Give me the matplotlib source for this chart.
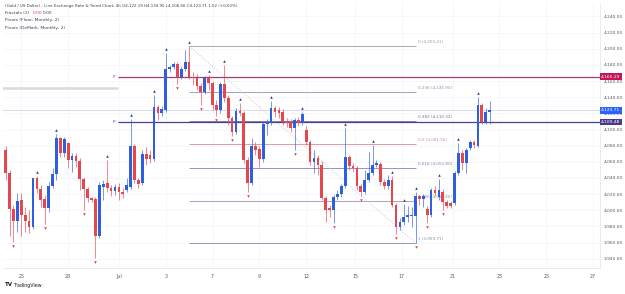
import matplotlib
matplotlib.use("Agg")
import matplotlib.pyplot as plt
import matplotlib.transforms as mtransforms
import numpy as np

# ---------------- data ----------------
opens = [4074.7, 4046.2, 4001.6, 3986.8, 4012.8, 3994.2, 3986.8, 3979.4, 4040.0, 4026.4,
         4014.0, 4002.9, 4030.1, 4045.0, 4089.5, 4071.0, 4083.3, 4062.3, 4067.2, 4061.1,
         4038.8, 4026.4, 4015.3, 4014.0, 3968.2, 4028.9, 4033.8, 4027.6, 4023.9, 4028.9,
         4022.7, 4025.2, 4028.9, 4079.6, 4037.5, 4033.8, 4069.7, 4068.5, 4063.5, 4127.9,
         4120.5, 4124.2, 4174.9, 4177.4, 4181.1, 4165.0, 4174.9, 4183.6, 4165.0, 4163.8,
         4153.9, 4146.4, 4163.8, 4157.6, 4130.4, 4124.2, 4156.3, 4139.0, 4114.3, 4096.9,
         4122.9, 4120.5, 4062.3, 4033.8, 4079.6, 4075.9, 4063.5, 4106.8, 4108.1, 4126.6,
         4124.2, 4121.7, 4109.3, 4109.3, 4101.9, 4111.8, 4108.1, 4099.4, 4084.6, 4059.8,
         4064.8, 4056.1, 4015.3, 4002.9, 4000.4, 4016.5, 4020.2, 4030.1, 4066.0, 4054.9,
         4052.4, 4030.1, 4022.7, 4037.5, 4046.2, 4056.1, 4057.3, 4035.1, 4030.1, 4037.5,
         4006.6, 3979.4, 3985.6, 3991.7, 3993.0, 3993.0, 4017.7, 4014.0, 4001.6, 3994.2,
         4025.2, 4016.5, 4022.7, 4010.3, 4009.1, 4009.1, 4046.2, 4071.0, 4058.6, 4077.1,
         4084.6, 4079.6, 4130.4, 4109.3, 4122.19]
highs = [4079.6, 4049.9, 4006.6, 4021.4, 4021.4, 4004.1, 4000.4, 4040.0, 4042.5, 4031.3,
         4019.0, 4035.1, 4052.4, 4094.5, 4090.8, 4090.8, 4084.6, 4071.0, 4071.0, 4064.8,
         4041.2, 4028.9, 4016.5, 4016.5, 4035.1, 4037.5, 4062.3, 4031.3, 4032.6, 4033.8,
         4027.6, 4040.0, 4113.0, 4082.1, 4040.0, 4074.7, 4078.4, 4074.7, 4142.7, 4130.4,
         4129.1, 4194.7, 4179.9, 4183.6, 4183.6, 4178.6, 4198.4, 4203.41, 4171.2, 4168.7,
         4157.6, 4166.2, 4167.5, 4160.1, 4136.5, 4158.8, 4179.9, 4142.7, 4116.7, 4126.6,
         4132.8, 4122.9, 4066.0, 4089.5, 4084.6, 4079.6, 4109.3, 4113.0, 4135.3, 4129.1,
         4127.9, 4125.4, 4114.3, 4113.0, 4114.3, 4115.5, 4121.7, 4104.4, 4087.0, 4074.7,
         4068.5, 4061.1, 4017.7, 4006.6, 4019.0, 4025.2, 4032.6, 4101.9, 4068.5, 4058.6,
         4054.9, 4032.6, 4049.9, 4072.2, 4080.9, 4062.3, 4059.8, 4038.8, 4043.7, 4042.5,
         4009.1, 3990.5, 4007.8, 4005.4, 4004.1, 4022.7, 4019.0, 4020.2, 4005.4, 4027.6,
         4030.1, 4038.8, 4026.4, 4012.8, 4011.5, 4048.7, 4083.3, 4074.7, 4077.1, 4087.0,
         4087.0, 4140.3, 4132.8, 4126.6, 4134.90]
lows = [4037.5, 3968.2, 3960.8, 3973.2, 3968.2, 3973.2, 3971.9, 3976.9, 4021.4, 4004.1,
        3983.1, 3997.9, 4027.6, 4037.5, 4066.0, 4066.0, 4052.4, 4047.4, 4053.6, 4025.2,
        4000.4, 4010.3, 4010.3, 3941.0, 3965.8, 4012.8, 4022.7, 4017.7, 4019.0, 4012.8,
        4015.3, 4022.7, 4026.4, 4033.8, 4027.6, 4031.3, 4056.1, 4058.6, 4061.1, 4111.8,
        4116.7, 4121.7, 4171.2, 4174.9, 4156.3, 4162.5, 4172.4, 4162.5, 4155.1, 4148.9,
        4130.4, 4144.0, 4148.9, 4124.2, 4116.7, 4120.5, 4134.1, 4105.6, 4092.0, 4094.5,
        4116.7, 4058.6, 4022.7, 4031.3, 4068.5, 4053.6, 4059.8, 4093.2, 4105.6, 4115.5,
        4114.3, 4105.6, 4103.1, 4096.9, 4074.7, 4104.4, 4105.6, 4080.9, 4056.1, 4046.2,
        4043.7, 4012.8, 3985.6, 3991.7, 3984.3, 4012.8, 4016.5, 4027.6, 4049.9, 4047.4,
        4025.2, 4017.7, 4020.2, 4035.1, 4043.7, 4053.6, 4031.3, 4026.4, 4026.4, 4004.1,
        3970.7, 3975.7, 3981.8, 3985.6, 3979.4, 3959.71, 4006.6, 4004.1, 3984.3, 3991.7,
        4017.7, 4012.8, 4000.4, 4002.9, 4002.9, 4006.6, 4043.7, 4049.9, 4046.2, 4074.7,
        4077.1, 4078.4, 4106.8, 4106.8, 4106.56]
closes = [4046.2, 4001.6, 3986.8, 4011.5, 3994.2, 3986.8, 3979.4, 4040.0, 4026.4, 4012.8,
          4002.9, 4030.1, 4045.0, 4089.5, 4071.0, 4088.3, 4062.3, 4067.2, 4061.1, 4038.8,
          4026.4, 4015.3, 4012.8, 3968.2, 4031.3, 4032.6, 4027.6, 4023.9, 4028.9, 4022.7,
          4020.2, 4031.3, 4079.6, 4037.5, 4032.6, 4069.7, 4063.5, 4063.5, 4127.9, 4120.5,
          4125.4, 4174.9, 4177.4, 4181.1, 4165.0, 4174.9, 4183.6, 4165.0, 4163.8, 4153.9,
          4146.4, 4163.8, 4157.6, 4130.4, 4124.2, 4156.3, 4139.0, 4114.3, 4096.9, 4122.9,
          4120.5, 4062.3, 4033.8, 4079.6, 4074.7, 4063.5, 4106.8, 4109.3, 4126.6, 4121.7,
          4120.5, 4109.3, 4108.1, 4101.9, 4111.8, 4108.1, 4119.2, 4084.6, 4059.8, 4064.8,
          4056.1, 4015.3, 4000.4, 4000.4, 4016.5, 4020.2, 4030.1, 4066.0, 4054.9, 4052.4,
          4030.1, 4022.7, 4037.5, 4046.2, 4056.1, 4058.6, 4035.1, 4030.1, 4037.5, 4006.6,
          3979.4, 3985.6, 3991.7, 3994.2, 3994.2, 4017.7, 4014.0, 4017.7, 3994.2, 4025.2,
          4021.4, 4025.2, 4010.3, 4005.4, 4005.4, 4046.2, 4071.0, 4058.6, 4074.7, 4084.6,
          4080.9, 4130.4, 4109.3, 4121.7, 4123.71]

fractal_up = [8, 13, 26, 32, 38, 41, 47, 52, 56, 60, 68, 76, 87, 94, 99, 102, 105, 111, 116, 121]
fractal_down = [2, 10, 20, 23, 44, 50, 54, 58, 62, 74, 84, 91, 100, 105, 108, 112]

x_tick_labels = ["25", "28", "Jul", "3", "7", "9", "12", "15", "17", "21", "23", "25", "27"]
x_tick_pos = [4, 16, 29, 41, 53, 65, 77, 89.5, 101.5, 114.5, 126.5, 138.5, 150.5]
y_ticks = [3940, 3960, 3980, 4000, 4020, 4040, 4060, 4080, 4100, 4120, 4140, 4160, 4180, 4200, 4220, 4240]

pivot_floor = 4165.29
pivot_demark = 4109.48
prev_pivot = 4151.4
pivot_start = 28.8
last_close = 4123.71

fib_high, fib_low = 4203.41, 3959.71
fib_i0, fib_i1 = 47, 105
fib_levels = [0, 0.236, 0.382, 0.5, 0.618, 0.786, 1]
fib_colors = ["#9a9aa6", "#9a8fb0", "#7b6aa8", "#d98a96", "#8d7fb8", "#9a94b0", "#8f86ad"]

legend_title = "(Gold / US Dollar) - Line Exchange Rate & Trend Chart, 4h O4,122.19 H4,134.90 L4,106.56 C4,123.71 1.02 (+0.02%)"
legend_lines = ["Fractals (2)", "Pivots (Floor, Monthly, 2)", "Pivots (DeMark, Monthly, 2)"]

# ---------------- figure ----------------
W, H = 625, 294
fig = plt.figure(figsize=(W / 100, H / 100), dpi=100)
ax_l, ax_r, ax_t, ax_b = 3, 600, 3, 268
ax = fig.add_axes([ax_l / W, 1 - ax_b / H, (ax_r - ax_l) / W, (ax_b - ax_t) / H])
ax.set_xlim(-0.69, 152.27)
ax.set_ylim(3928.6, 4256.6)

UP = "#2f5fe0"
DN = "#e5474f"
n = len(opens)
idx = np.arange(n)
o = np.array(opens); c = np.array(closes); h = np.array(highs); l = np.array(lows)
up = c >= o
colors = np.where(up, UP, DN)

# grid
for yt in y_ticks:
    ax.axhline(yt, color="#f3f4f8", lw=0.5, zorder=0)
for xt in x_tick_pos:
    ax.axvline(xt, color="#f3f4f8", lw=0.5, zorder=0)

# previous month pivot and last price line
ax.hlines(prev_pivot, -1, pivot_start, color="#d9d9de", lw=1.8, zorder=1)
ax.axhline(last_close, color="#cfd6ea", lw=0.6, zorder=1)

# pivots
ax.hlines(pivot_floor, pivot_start, 153, color="#a23a74", lw=0.9, zorder=2)
ax.hlines(pivot_demark, pivot_start, 153, color="#4d3f8f", lw=0.9, zorder=2)
ax.text(pivot_start - 0.8, pivot_floor, "P", fontsize=3, color="#a23a74", ha="right", va="center")
ax.text(pivot_start - 0.8, pivot_demark, "P", fontsize=3, color="#4d3f8f", ha="right", va="center")

# fib retracement
for lev, col in zip(fib_levels, fib_colors):
    price = fib_high - lev * (fib_high - fib_low)
    ax.hlines(price, fib_i0, fib_i1, color=col, lw=0.6, zorder=1.5)
    ax.text(fib_i1 + 0.6, price + 2.5, f"{lev:g} ({price:,.2f})", fontsize=3,
            color=col, ha="left", va="bottom", zorder=1.5)
ax.plot([fib_i0, fib_i1], [fib_high, fib_low], color="#c8c8d0", lw=0.5, ls=(0, (2, 2)), zorder=1.5)

# candles
ax.vlines(idx, l, h, colors=colors, lw=0.6, zorder=3, alpha=0.75)
body_bottom = np.minimum(o, c)
body_h = np.maximum(np.abs(c - o), 0.8)
ax.bar(idx, body_h, bottom=body_bottom, width=0.7, color=colors, zorder=4, linewidth=0)

# fractals
tr_up = mtransforms.offset_copy(ax.transData, fig=fig, x=0, y=4, units="dots")
tr_dn = mtransforms.offset_copy(ax.transData, fig=fig, x=0, y=-4, units="dots")
ax.scatter(fractal_up, h[fractal_up], marker="^", s=3.5, color="#2b3a8f", transform=tr_up, zorder=5, linewidths=0)
ax.scatter(fractal_down, l[fractal_down], marker="v", s=3.5, color="#d63a4a", transform=tr_dn, zorder=5, linewidths=0)

# axes style
for sp in ["top", "left"]:
    ax.spines[sp].set_visible(False)
ax.spines["right"].set_color("#e6e8ef")
ax.spines["bottom"].set_color("#e6e8ef")
ax.spines["right"].set_linewidth(0.6)
ax.spines["bottom"].set_linewidth(0.6)
ax.yaxis.tick_right()
ax.set_yticks(y_ticks)
ax.set_yticklabels([f"{v:,.2f}" for v in y_ticks])
ax.set_xticks(x_tick_pos)
ax.set_xticklabels(x_tick_labels)
ax.tick_params(axis="y", length=0, pad=3, labelsize=3.2, labelcolor="#555a66")
ax.tick_params(axis="x", length=0, pad=4, labelsize=3.4, labelcolor="#555a66")

# price labels on right axis
def price_box(price, col):
    ax.text(1.002, price, f"{price:,.2f}", transform=ax.get_yaxis_transform(), fontsize=3.2,
            color="white", ha="left", va="center", zorder=10, clip_on=False,
            bbox=dict(boxstyle="square,pad=0.3", fc=col, ec="none"))

price_box(pivot_floor, "#c2185b")
price_box(last_close, "#2962ff")
price_box(pivot_demark, "#4a3b8f")

# legend text
fig.text(5 / W, 1 - 6 / H, legend_title, fontsize=2.85, color="#3c4150", ha="left", va="center")
for t, yy in zip(legend_lines, [13.5, 20.5, 27.5]):
    fig.text(5 / W, 1 - yy / H, t, fontsize=3.2, color="#3c4150", ha="left", va="center")
fig.text(33 / W, 1 - 13.5 / H, "0.00", fontsize=3.2, color="#e5474f", ha="left", va="center")
fig.text(43 / W, 1 - 13.5 / H, "0.00", fontsize=3.2, color="#3c4150", ha="left", va="center")

# logo
fig.text(5 / W, 1 - 285 / H, "TV", fontsize=4, fontweight="bold", color="#131722", ha="left", va="center")
fig.text(14 / W, 1 - 285 / H, "TradingView", fontsize=3.4, color="#131722", ha="left", va="center")

fig.savefig("out.png", dpi=100)
